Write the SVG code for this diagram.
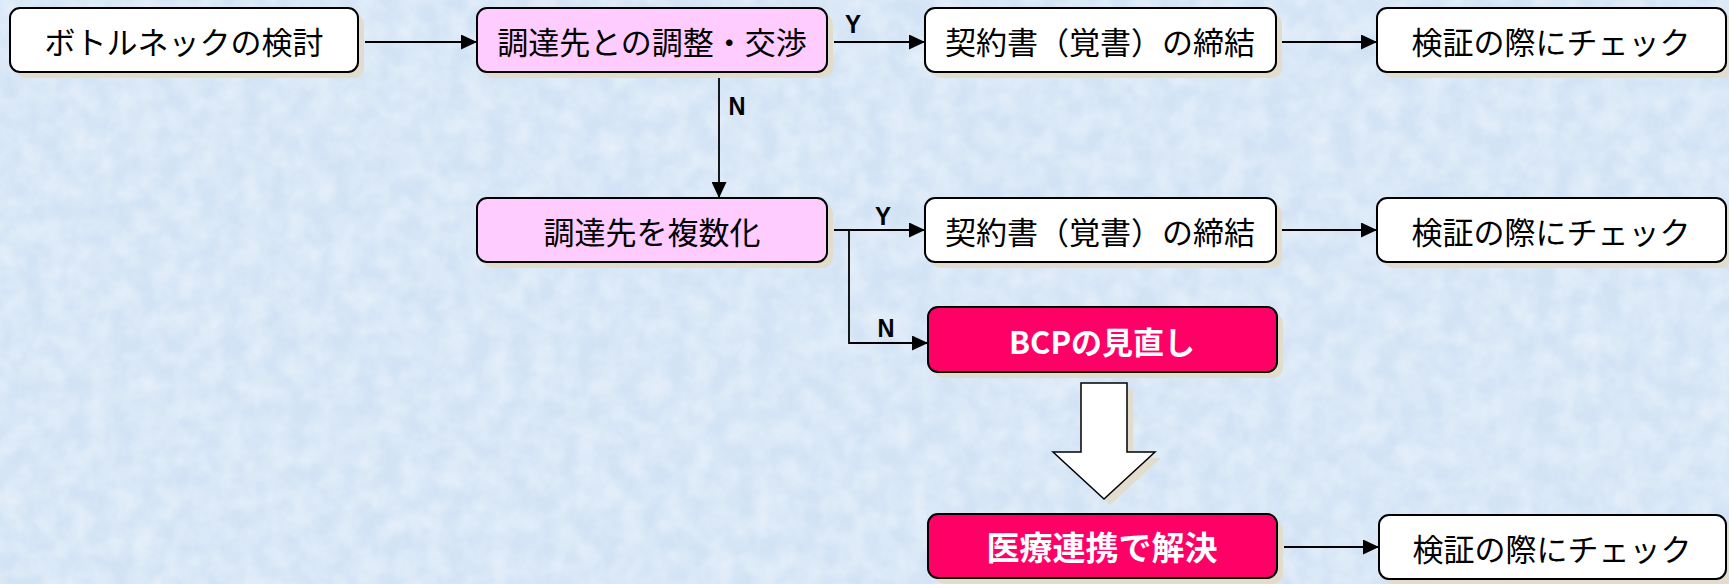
<svg xmlns="http://www.w3.org/2000/svg" width="1729" height="584" viewBox="0 0 1729 584">
<style>
.box{stroke:#000;stroke-width:2}
.w{fill:#fff}
.p{fill:#ffccff}
.r{fill:#ff0066}
.sh{fill:#e2dccd}
.t{font-family:"Noto Sans CJK JP","Noto Sans",sans-serif;font-size:31px;fill:#000;text-anchor:middle;dominant-baseline:central}
.tw{font-family:"Noto Sans CJK JP","Noto Sans",sans-serif;font-size:31px;font-weight:bold;fill:#fff;text-anchor:middle;dominant-baseline:central}
.lbl{font-family:"Liberation Sans",Arial,sans-serif;font-size:26px;font-weight:bold;fill:#000;text-anchor:middle}
.c{fill:none;stroke:#000;stroke-width:1.8}
</style>
<defs>
<marker id="ah" markerUnits="userSpaceOnUse" markerWidth="16" markerHeight="15" refX="16" refY="7.5" orient="auto">
<path d="M0,0 L16,7.5 L0,15 z" fill="#000"/>
</marker>
<filter id="tex" x="0" y="0" width="100%" height="100%">
<feTurbulence type="fractalNoise" baseFrequency="0.045" numOctaves="3" seed="4"/>
<feColorMatrix type="matrix" values="0 0 0 0 1  0 0 0 0 1  0 0 0 0 1  0 0 0 -1.2 0.9"/>
</filter>
</defs>
<rect x="0" y="0" width="1729" height="584" fill="#d2e3f5"/>
<rect x="0" y="0" width="1729" height="584" filter="url(#tex)" opacity="0.55"/>

<g id="connectors">
<path class="c" d="M365,42 H477" marker-end="url(#ah)"/>
<path class="c" d="M834,42 H925" marker-end="url(#ah)"/>
<path class="c" d="M719,72 V198" marker-end="url(#ah)"/>
<path class="c" d="M1282,42 H1377" marker-end="url(#ah)"/>
<path class="c" d="M834,230 H925" marker-end="url(#ah)"/>
<path class="c" d="M849,230 V343 H928" marker-end="url(#ah)"/>
<path class="c" d="M1282,230 H1377" marker-end="url(#ah)"/>
<path class="c" d="M1284,547 H1379" marker-end="url(#ah)"/>
<text class="lbl" x="853" y="33" textLength="16" lengthAdjust="spacingAndGlyphs">Y</text>
<text class="lbl" x="737" y="115" textLength="17" lengthAdjust="spacingAndGlyphs">N</text>
<text class="lbl" x="883" y="225" textLength="16" lengthAdjust="spacingAndGlyphs">Y</text>
<text class="lbl" x="886" y="337" textLength="17" lengthAdjust="spacingAndGlyphs">N</text>
</g>

<g id="n1">
<rect class="sh" x="16" y="14" width="348" height="64" rx="10"/>
<rect class="box w" x="10" y="8" width="348" height="64" rx="10"/>
<text class="t" x="184" y="40">ボトルネックの検討</text>
</g>
<g id="n2">
<rect class="sh" x="483" y="14" width="350" height="64" rx="10"/>
<rect class="box p" x="477" y="8" width="350" height="64" rx="10"/>
<text class="t" x="652" y="40">調達先との調整・交渉</text>
</g>
<g id="n3">
<rect class="sh" x="931" y="14" width="351" height="64" rx="10"/>
<rect class="box w" x="925" y="8" width="351" height="64" rx="10"/>
<text class="t" x="1100" y="40">契約書（覚書）の締結</text>
</g>
<g id="n4">
<rect class="sh" x="1383" y="14" width="349" height="64" rx="10"/>
<rect class="box w" x="1377" y="8" width="349" height="64" rx="10"/>
<text class="t" x="1551" y="40">検証の際にチェック</text>
</g>
<g id="n5">
<rect class="sh" x="483" y="204" width="350" height="64" rx="10"/>
<rect class="box p" x="477" y="198" width="350" height="64" rx="10"/>
<text class="t" x="652" y="230">調達先を複数化</text>
</g>
<g id="n6">
<rect class="sh" x="931" y="204" width="351" height="64" rx="10"/>
<rect class="box w" x="925" y="198" width="351" height="64" rx="10"/>
<text class="t" x="1100" y="230">契約書（覚書）の締結</text>
</g>
<g id="n7">
<rect class="sh" x="1383" y="204" width="349" height="64" rx="10"/>
<rect class="box w" x="1377" y="198" width="349" height="64" rx="10"/>
<text class="t" x="1551" y="230">検証の際にチェック</text>
</g>
<g id="n8">
<rect class="sh" x="934" y="313" width="349" height="65" rx="10"/>
<rect class="box r" x="928" y="307" width="349" height="65" rx="10"/>
<text class="tw" x="1102" y="340">BCPの見直し</text>
</g>
<g id="bigarrow">
<path d="M1087,389 H1133 V458 H1161 L1110,505 L1059,458 H1087 Z" fill="#e2dccd"/>
<path d="M1081,383 H1127 V452 H1155 L1104,499 L1053,452 H1081 Z" fill="#fff" stroke="#000" stroke-width="1.5"/>
</g>
<g id="n9">
<rect class="sh" x="934" y="520" width="349" height="64" rx="10"/>
<rect class="box r" x="928" y="514" width="349" height="64" rx="10"/>
<text class="tw" x="1102" y="546" style="font-size:33px">医療連携で解決</text>
</g>
<g id="n10">
<rect class="sh" x="1385" y="521" width="347" height="64" rx="10"/>
<rect class="box w" x="1379" y="515" width="347" height="64" rx="10"/>
<text class="t" x="1552" y="547">検証の際にチェック</text>
</g>
</svg>
